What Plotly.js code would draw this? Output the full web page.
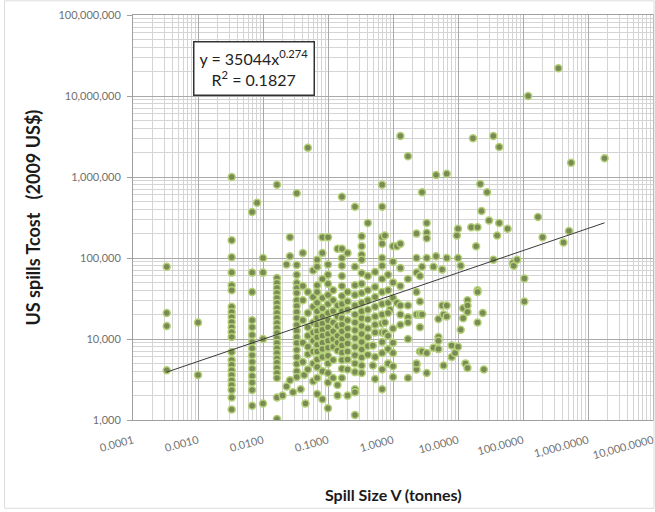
<!DOCTYPE html>
<html>
<head>
<meta charset="utf-8">
<script src="https://cdn.plot.ly/plotly-3.0.1.min.js"></script>
<style>html,body{margin:0;padding:0;background:#fff;}#chart{width:655px;height:512px;}</style>
</head>
<body>
<div id="chart"></div>
<script>
// Spill size V (tonnes) and total cost (2009 US$)
const spillSize = [
  0.00033,0.00033,0.00033,0.00033,
  0.001,0.001,
  0.0033,0.0033,0.0033,0.0033,0.0033,0.0033,0.0033,0.0033,0.0033,0.0033,0.0033,0.0033,0.0033,0.0033,0.0033,0.0033,0.0033,0.0033,0.0033,0.0033,0.0033,0.0033,0.0033,
  0.0068,0.0068,0.0068,0.0068,0.0068,0.0068,0.0068,0.0068,0.0068,0.0068,0.0068,0.0068,0.0068,0.0068,0.0068,0.0081,
  0.01,0.01,0.01,0.01,
  0.0164,0.0164,0.0164,0.0164,0.0164,0.0164,0.0164,0.0164,0.0164,0.0164,0.0164,0.0164,0.0164,0.0164,0.0164,0.0164,0.0164,0.0164,0.0164,0.0164,0.0164,0.0164,0.0164,0.0164,
  0.02,0.023,0.026,0.029,0.038,0.045,0.043,
  0.026,0.026,0.023,
  0.033,0.033,0.033,0.033,0.033,0.033,0.033,0.033,0.033,0.033,0.033,0.033,0.033,0.033,0.033,0.033,0.033,0.033,0.033,
  0.041,0.041,0.041,0.041,0.041,0.041,
  0.049,0.049,0.049,0.049,0.049,0.049,0.049,0.049,
  0.059,0.059,0.059,0.059,0.059,0.059,0.059,0.059,0.059,
  0.068,0.068,0.068,0.068,0.068,0.068,0.068,0.068,0.068,0.068,0.068,0.068,0.068,0.068,0.068,0.068,
  0.082,0.082,0.082,0.082,0.082,0.082,0.082,0.082,0.082,0.082,0.082,0.082,0.082,0.082,
  0.1,0.1,0.1,0.1,0.1,0.1,0.1,0.1,0.1,0.1,0.1,0.1,0.1,0.1,0.1,0.1,0.1,
  0.12,0.12,0.12,0.12,0.12,0.12,0.12,0.12,0.12,
  0.14,0.14,0.14,0.14,0.14,0.14,0.14,0.14,0.14,
  0.164,0.164,0.164,0.164,0.164,0.164,0.164,0.164,0.164,0.164,0.164,0.164,0.164,0.164,0.164,0.164,0.164,0.164,
  0.2,0.2,0.2,0.2,0.2,0.2,0.2,0.2,0.2,0.2,0.2,0.2,
  0.26,0.26,0.26,0.26,0.26,0.26,0.26,0.26,0.26,0.26,0.26,0.26,0.26,0.26,0.26,0.26,
  0.33,0.33,0.33,0.33,0.33,0.33,0.33,0.33,0.33,0.33,0.33,0.33,0.33,0.33,0.33,0.33,0.33,
  0.41,0.41,0.41,0.41,0.41,0.41,0.41,0.41,0.41,0.41,
  0.49,0.49,
  0.53,0.53,0.53,0.53,0.53,0.53,0.53,0.53,0.53,
  0.68,0.68,0.68,0.68,0.68,0.68,0.68,0.68,0.68,0.68,0.68,0.68,0.68,0.68,0.68,0.68,
  0.75,0.9,0.75,0.75,
  0.84,0.84,0.84,0.84,0.84,0.84,0.84,
  1.0,1.0,1.0,1.0,1.0,1.0,1.0,1.0,1.0,
  1.15,1.15,
  1.3,1.3,1.3,1.3,1.3,1.3,1.3,
  1.7,1.7,1.7,1.7,1.7,1.7,1.7,
  2.3,2.3,2.3,2.3,2.3,2.3,2.3,2.3,
  2.6,2.6,2.6,2.6,2.6,
  2.8,2.8,2.8,2.8,
  3.3,3.3,3.3,3.3,3.3,3.3,
  4.2,4.2,
  4.6,4.6,
  5,5,5,5,
  5.7,5.7,
  6,6,
  6.7,6.7,6.7,6.7,
  8,8,
  9,
  9.6,
  10,10,10,
  11,11,
  12,12,
  14,14,14,13,14,
  16,
  19,
  20,20,20,20,
  22,
  23,
  24,25,
  28,
  30,
  35,35,
  40,
  43,43,
  58,
  70,72,81,
  105,105,
  120,
  170,
  200,
  350,
  420,
  510,
  550,
  1800,
  17
];
const totalCost = [
  78000,21000,14500,4100,
  16000,3600,
  1000000,166000,102000,66000,46000,40000,25000,21500,18700,16200,14000,12200,10600,6900,5500,4800,4100,3600,3100,2700,2350,1900,1350,
  370000,66000,38000,17000,14000,11200,9200,7700,6300,5200,4300,3500,2900,2350,1500,480000,
  100000,66000,10000,1600,
  800000,56600,49000,42600,37000,32000,27800,24100,20900,18200,15800,13700,11900,10300,8900,7700,6700,5800,5100,4400,3800,3300,1900,1030,
  2000,2600,3100,2200,2400,1600,3600,
  180000,105000,83000,
  630000,82000,62000,49000,42600,37000,30000,25500,21500,18200,14900,12600,10600,8900,7300,6000,4900,4000,3400,
  115000,45000,30000,17000,9000,5200,
  2300000,38000,21000,14000,11000,8000,6500,4200,
  70000,33000,25000,16000,12000,9500,7000,5000,3000,
  95000,78000,46000,38000,28000,22000,18000,15000,12500,10500,8500,7000,5600,4500,3300,2100,
  180000,115000,55000,32000,24000,19000,15500,13000,11000,9000,7500,6000,4000,1800,
  180000,83000,62000,48000,35000,27000,21000,17000,14000,11500,9500,7800,6200,5000,3800,2900,1400,
  40000,30000,22000,16000,12500,10000,8000,5500,3300,
  130000,26000,19000,14500,11000,9000,7200,2700,2000,
  570000,130000,100000,80000,60000,45000,34000,27000,22000,18000,15000,12500,10000,8300,6800,5500,4300,3300,
  115000,38000,29000,23000,17000,13500,11000,8800,7000,5600,4200,2000,
  430000,78000,46000,35000,26000,20000,16000,12800,10200,8000,6300,5000,3900,2400,2200,1150,
  185000,140000,110000,95000,65000,48000,37000,28000,22000,18000,14500,11500,9200,7400,5900,4700,3800,
  270000,60000,40000,30000,23000,17500,13500,10500,8200,6400,
  8300,4700,
  67000,44000,33000,25000,19000,15000,12000,6000,3200,
  800000,430000,180000,150000,100000,80000,55000,38000,27000,20000,15500,12000,9200,6700,4200,2400,
  190000,23000,16000,12000,
  62000,40000,28000,21000,11000,7500,5000,
  140000,90000,50000,32000,13500,9000,6700,4600,3400,
  140000,28000,
  3200000,150000,75000,45000,26000,20000,15000,
  1800000,55000,26000,18500,16000,10000,3300,
  200000,100000,66000,38000,20000,4800,4200,5000,
  60000,29000,20000,14000,7000,
  650000,78000,20000,7000,
  270000,205000,175000,100000,6700,3800,
  78000,7800,
  1060000,105000,
  17600,10600,9500,7500,
  72000,26000,
  20000,4700,
  1100000,100000,26000,19000,
  8300,6000,
  6700,
  190000,
  230000,100000,8000,
  80000,13000,
  24000,18000,
  30000,26000,21500,5000,4400,
  240000,
  140000,
  240000,40000,38000,16000,
  820000,
  380000,
  21000,4200,
  650000,
  290000,
  3200000,95000,
  190000,
  2350000,270000,
  230000,
  87000,80000,95000,
  56000,29000,
  10000000,
  320000,
  180000,
  22000000,
  155000,
  215000,
  1500000,
  1700000,
  3000000
];
// Power trendline y = 35044 x^0.274, end points
const trendX = [0.00033, 1800];
const trendY = [3900, 272000];

const xTickVals = [0.0001,0.001,0.01,0.1,1,10,100,1000,10000];
const xTickText = ['0.0001','0.0010','0.0100','0.1000','1.0000','10.0000','100.0000','1,000.0000','10,000.0000'];
const yTickVals = [1000,10000,100000,1000000,10000000,100000000];
const yTickText = ['1,000','10,000','100,000','1,000,000','10,000,000','100,000,000'];

const FONT = 'Lato, "Open Sans", "DejaVu Sans", sans-serif';

const traces = [
  {
    type: 'scatter', mode: 'markers', x: spillSize, y: totalCost,
    marker: {size: 7, color: '#7a8a55', line: {color: '#b3d077', width: 1.5}},
    hoverinfo: 'skip'
  },
  {
    type: 'scatter', mode: 'lines', x: trendX, y: trendY,
    line: {color: '#3a3a3a', width: 1}, hoverinfo: 'skip'
  }
];

const axisCommon = {
  type: 'log', showgrid: true, gridcolor: '#a9a9a9', gridwidth: 1,
  minor: {dtick: 'D1', showgrid: true, gridcolor: '#d4d4d4', gridwidth: 1, ticks: ''},
  showline: true, linecolor: '#a0a0a0', linewidth: 1, mirror: true, zeroline: false,
  tickfont: {family: FONT, size: 11, color: '#707070'}, tickmode: 'array'
};

const layout = {
  width: 655, height: 512,
  margin: {l: 133, r: 2, t: 15, b: 92},
  paper_bgcolor: '#ffffff', plot_bgcolor: '#ffffff',
  showlegend: false,
  font: {family: FONT},
  xaxis: Object.assign({}, axisCommon, {
    range: [-4, 4], tickvals: xTickVals, ticktext: xTickText, tickangle: -15,
    ticks: '', ticklabelstandoff: 9, ticklabeloverflow: 'allow'
  }),
  yaxis: Object.assign({}, axisCommon, {
    range: [3, 8], tickvals: yTickVals, ticktext: yTickText,
    ticks: 'outside', ticklen: 5, tickcolor: '#a0a0a0', ticklabelstandoff: 4
  }),
  annotations: [
    {xref: 'paper', yref: 'paper', x: 0.232, y: 0.868, xanchor: 'center', yanchor: 'middle',
     text: 'y = 35044x<sup>0.274</sup><br>R<sup>2</sup> = 0.1827', showarrow: false, align: 'center',
     font: {family: FONT, size: 16, color: '#222'}, bgcolor: '#ffffff',
     bordercolor: '#333333', borderwidth: 1.5, borderpad: 5},
    {xref: 'paper', yref: 'paper', x: -0.194, y: 0.5, xanchor: 'center', yanchor: 'middle',
     text: '<b>US spills Tcost   (2009 US$)</b>', textangle: -90, showarrow: false,
     font: {family: FONT, size: 18, color: '#1a1a1a'}},
    {xref: 'paper', yref: 'paper', x: 0.5, y: -0.185, xanchor: 'center', yanchor: 'middle',
     text: '<b>Spill Size V (tonnes)</b>', showarrow: false,
     font: {family: FONT, size: 16, color: '#1a1a1a'}}
  ],
  shapes: [
    {type: 'rect', xref: 'paper', yref: 'paper', x0: -0.247, x1: 1.002, y0: -0.218, y1: 1.035,
     line: {color: '#dcdcdc', width: 1}}
  ]
};

Plotly.newPlot('chart', traces, layout, {staticPlot: true, displayModeBar: false});
</script>
</body>
</html>
